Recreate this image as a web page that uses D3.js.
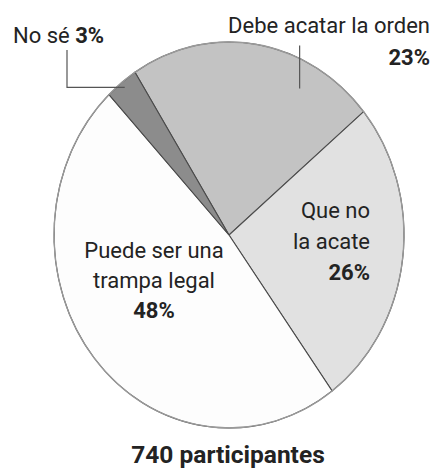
<!DOCTYPE html>
<html>
<head>
<meta charset="utf-8">
<script src="https://cdn.jsdelivr.net/npm/d3@7"></script>
<style>
  html, body { margin: 0; padding: 0; background: #ffffff; }
  svg { display: block; }
  text { font-family: "Roboto", "DejaVu Sans Condensed", sans-serif; fill: #232323; }
</style>
</head>
<body>
<svg id="chart" width="432" height="468"></svg>
<script>
// ---- data ----
const categories = ["Debe acatar la orden", "Que no la acate", "Puede ser una trampa legal", "No sé"];
const values = [23, 26, 48, 3];
const sliceColors = ["#c3c3c3", "#e1e1e1", "#fdfdfd", "#8c8c8c"];
const totalLabel = "740 participantes";

const W = 432, H = 468;
const cx = 229, cy = 235, rx = 175, ry = 193;
const start = -32.5 * Math.PI / 180;

const svg = d3.select("#chart");

const pie = d3.pie().sort(null).value(d => d.value)
  .startAngle(start).endAngle(start + 2 * Math.PI);
const data = pie(categories.map((c, i) => ({ cat: c, value: values[i], color: sliceColors[i] })));
const arc = d3.arc().innerRadius(0).outerRadius(rx);

const g = svg.append("g").attr("transform", `translate(${cx},${cy}) scale(1,${ry / rx})`);

g.selectAll("path.slice").data(data).join("path")
  .attr("class", "slice")
  .attr("d", arc)
  .attr("fill", d => d.data.color)
  .attr("stroke", "#4a4a4a")
  .attr("stroke-width", 1.1)
  .attr("vector-effect", "non-scaling-stroke");

// outer border lighter
g.append("circle").attr("r", rx).attr("fill", "none")
  .attr("stroke", "#9a9a9a").attr("stroke-width", 1.3)
  .attr("vector-effect", "non-scaling-stroke");

// helper: point on ellipse edge at angle a (clockwise from top)
const edge = (a, f = 1) => [cx + rx * f * Math.sin(a), cy - ry * f * Math.cos(a)];

// Leader for "No sé"
const ns = data[3];
const nsMid = (ns.startAngle + ns.endAngle) / 2;
const [px, py] = edge(nsMid, 0.97);
svg.append("polyline")
  .attr("points", `67,50 67,${py} ${px},${py}`)
  .attr("fill", "none").attr("stroke", "#555").attr("stroke-width", 1.2);

// Leader for "Debe acatar"
const db = data[0];
const dbA = db.startAngle + 0.68 * (db.endAngle - db.startAngle);
const [dx, dy] = edge(dbA);
svg.append("line")
  .attr("x1", dx).attr("x2", dx).attr("y1", dy - 13).attr("y2", dy + 30)
  .attr("stroke", "#555").attr("stroke-width", 1.2);

// labels
const fs = 22;
function label(lines, x, y, anchor, lh) {
  const t = svg.append("text").attr("text-anchor", anchor).attr("font-size", fs);
  lines.forEach((l, i) => {
    t.append("tspan").attr("x", x).attr("y", y + i * lh)
      .attr("font-weight", l.b ? "bold" : "normal")
      .text(l.t);
  });
  return t;
}

// No sé 3%
const t1 = svg.append("text").attr("x", 13).attr("y", 43).attr("font-size", fs);
t1.append("tspan").text(categories[3] + " ");
t1.append("tspan").attr("font-weight", "bold").text(values[3] + "%");

label([{ t: categories[0] }, { t: values[0] + "%", b: true }], 430, 33, "end", 32);
label([{ t: "Que no" }, { t: "la acate" }, { t: values[1] + "%", b: true }], 370, 218, "end", 31);
label([{ t: "Puede ser una" }, { t: "trampa legal" }, { t: values[2] + "%", b: true }], 154, 258, "middle", 30);

svg.append("text").attr("x", 228).attr("y", 463).attr("text-anchor", "middle")
  .attr("font-size", 24.5).attr("font-weight", "bold").text(totalLabel);
</script>
</body>
</html>
